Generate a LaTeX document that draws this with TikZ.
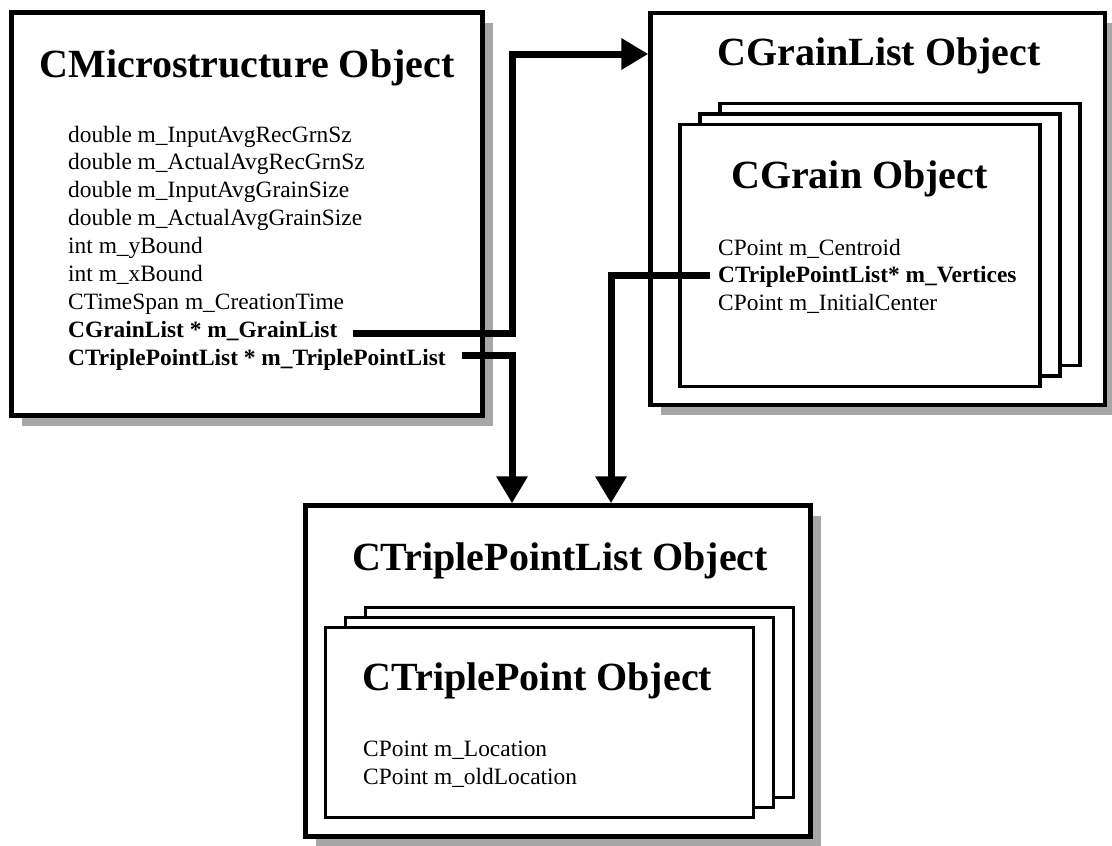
\documentclass[tikz,border=0pt]{standalone}
\usepackage{fontspec}
\setmainfont{Liberation Serif}
\usetikzlibrary{arrows.meta,shadows}
\begin{document}
\begin{tikzpicture}[x=1pt,y=-1pt,
  objbox/.style={draw, line width=4.5pt, fill=white, inner sep=0pt,
    drop shadow={shadow xshift=10pt, shadow yshift=-10pt, fill=black!35, opacity=1}},
  itembox/.style={draw, line width=3.3pt, fill=white, inner sep=0pt},
  title/.style={anchor=base, inner sep=0pt, font=\fontsize{40}{48}\selectfont\bfseries},
  field/.style={anchor=base west, inner sep=0pt, font=\fontsize{23.4}{28}\selectfont},
  bfield/.style={anchor=base west, inner sep=0pt, font=\fontsize{23.4}{28}\selectfont\bfseries},
  conn/.style={line width=7pt, line join=miter, -{Triangle[length=27pt,width=30pt]}}]
\useasboundingbox (0,0) rectangle (1112,846);
\fill[white] (0,0) rectangle (1112,846);

% --- CMicrostructure box
\node[objbox, minimum width=471pt, minimum height=403pt] (b1) at (247,214) {};
\node[title] (t1) at (247,77) {CMicrostructure Object};
\node[field] (m1) at (68,142) {double m\_InputAvgRecGrnSz};
\node[field] (m2) at (68,169.9) {double m\_ActualAvgRecGrnSz};
\node[field] (m3) at (68,197.8) {double m\_InputAvgGrainSize};
\node[field] (m4) at (68,225.7) {double m\_ActualAvgGrainSize};
\node[field] (m5) at (68,253.6) {int m\_yBound};
\node[field] (m6) at (68,281.5) {int m\_xBound};
\node[field] (m7) at (68,309.4) {CTimeSpan m\_CreationTime};
\node[bfield] (m8) at (68,337.3) {CGrainList * m\_GrainList};
\node[bfield] (m9) at (68,365.2) {CTriplePointList * m\_TriplePointList};

% --- CGrainList box
\node[objbox, minimum width=454.5pt, minimum height=392pt] (b2) at (877.75,209) {};
\node[title] (t2) at (879,65) {CGrainList Object};
\node[itembox, minimum width=360pt, minimum height=262pt] (g3) at (900,234.5) {};
\node[itembox, minimum width=360pt, minimum height=262pt] (g2) at (880,245) {};
\node[itembox, minimum width=360pt, minimum height=262pt] (g1) at (860,255.5) {};
\node[title] (tg) at (859.5,188) {CGrain Object};
\node[field] (n1) at (718,255) {CPoint m\_Centroid};
\node[bfield] (n2) at (718,282.8) {CTriplePointList* m\_Vertices};
\node[field] (n3) at (718,310.6) {CPoint m\_InitialCenter};

% --- CTriplePointList box
\node[objbox, minimum width=505pt, minimum height=331pt] (b3) at (558,671) {};
\node[title] (t3) at (560,570) {CTriplePointList Object};
\node[itembox, minimum width=428pt, minimum height=190pt] (p3) at (579.5,702.5) {};
\node[itembox, minimum width=428pt, minimum height=190pt] (p2) at (559.5,712.5) {};
\node[itembox, minimum width=428pt, minimum height=190pt] (p1) at (539.5,722.5) {};
\node[title] (tp) at (537.5,690) {CTriplePoint Object};
\node[field] (q1) at (363,756.7) {CPoint m\_Location};
\node[field] (q2) at (363,784.5) {CPoint m\_oldLocation};

% --- connectors
\coordinate (s1) at (353,333);
\coordinate (k1) at (512,54);
\draw[conn] (s1) -| (k1) -- (k1 -| b2.west);
\coordinate (s2) at (462,355);
\coordinate (k2) at (512,355);
\draw[conn] (s2) -- (k2) -- (k2 |- b3.north);
\coordinate (s3) at (710,275);
\coordinate (k3) at (611,275);
\draw[conn] (s3) -- (k3) -- (k3 |- b3.north);
\end{tikzpicture}
\end{document}
